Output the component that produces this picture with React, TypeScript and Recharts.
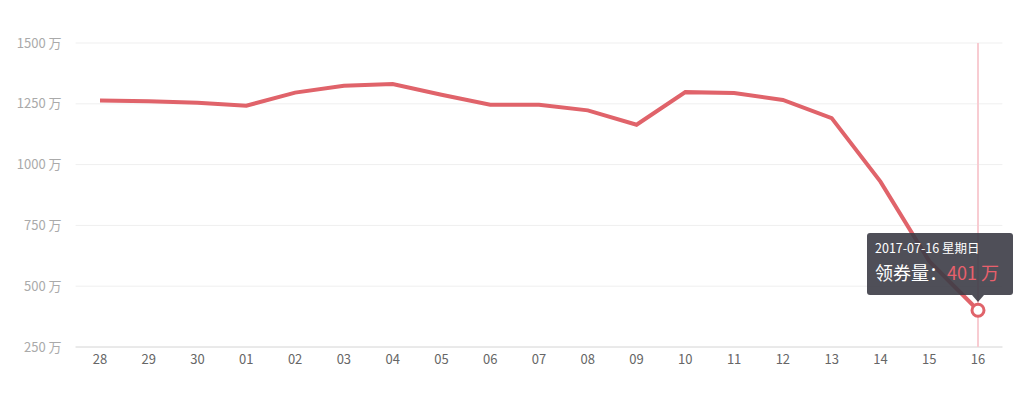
import React from 'react';
import { LineChart, Line, XAxis, YAxis, CartesianGrid, Tooltip } from 'recharts';

const days = ['28', '29', '30', '01', '02', '03', '04', '05', '06', '07', '08', '09', '10', '11', '12', '13', '14', '15', '16'];
const dates = ['2017-06-28', '2017-06-29', '2017-06-30', '2017-07-01', '2017-07-02', '2017-07-03', '2017-07-04', '2017-07-05', '2017-07-06', '2017-07-07', '2017-07-08', '2017-07-09', '2017-07-10', '2017-07-11', '2017-07-12', '2017-07-13', '2017-07-14', '2017-07-15', '2017-07-16'];
const weekdays = ['星期三', '星期四', '星期五', '星期六', '星期日', '星期一', '星期二', '星期三', '星期四', '星期五', '星期六', '星期日', '星期一', '星期二', '星期三', '星期四', '星期五', '星期六', '星期日'];
const coupons = [1264, 1260, 1254, 1242, 1296, 1324, 1331, 1287, 1246, 1246, 1223, 1164, 1298, 1294, 1266, 1191, 930, 603, 401];
const yTicks = [250, 500, 750, 1000, 1250, 1500];

const data = days.map((d, i) => ({ day: d, date: dates[i], weekday: weekdays[i], value: coupons[i] }));

const LINE = '#e0636a';
const FONT = '"Microsoft YaHei", "Noto Sans CJK SC", "Noto Sans", sans-serif';

const TipContent = (props: any) => {
  const { active, payload } = props;
  if (!active || !payload || !payload.length) return null;
  const p = payload[0].payload;
  return (
    <div style={{ position: 'relative', width: 146, height: 62, boxSizing: 'border-box', background: 'rgba(60,60,70,0.9)', borderRadius: 3, padding: '7px 8px 0 8px', fontFamily: FONT, color: '#fff' }}>
      <div style={{ fontSize: 12.5, lineHeight: '16px', whiteSpace: 'nowrap' }}>{p.date} {p.weekday}</div>
      <div style={{ fontSize: 18, lineHeight: '24px', marginTop: 4, whiteSpace: 'nowrap' }}>
        领券量：<span style={{ color: '#e8606c' }}>{p.value} 万</span>
      </div>
      <div style={{ position: 'absolute', left: 105, bottom: -7, width: 0, height: 0, borderLeft: '6px solid transparent', borderRight: '6px solid transparent', borderTop: '7px solid rgba(60,60,70,0.9)' }} />
    </div>
  );
};

export default function App() {
  return (
    <div style={{ position: 'absolute', left: 0, top: 0, width: 1022, height: 402, background: '#fff' }}>
      <LineChart width={1022} height={402} data={data} margin={{ top: 43, right: 19.6, left: 0, bottom: 25 }}>
        <CartesianGrid horizontal vertical={false} stroke="#efefef" />
        <XAxis
          dataKey="day"
          padding={{ left: 24.4, right: 24.4 }}
          axisLine={{ stroke: '#dcdcdc' }}
          tickLine={false}
          height={30}
          tick={{ fill: '#666', fontSize: 13, fontFamily: FONT }}
          interval={0}
        />
        <YAxis
          width={75.6}
          domain={[250, 1500]}
          ticks={yTicks}
          axisLine={false}
          tickLine={false}
          tickMargin={8}
          tick={{ fill: '#aaa', fontSize: 13, fontFamily: FONT }}
          tickFormatter={(v: number) => `${v} 万`}
        />
        <Tooltip
          defaultIndex={18}
          active
          content={<TipContent />}
          position={{ x: 867, y: 233 }}
          cursor={{ stroke: '#f8ccd2', strokeWidth: 2 }}
          wrapperStyle={{ outline: 'none' }}
          isAnimationActive={false}
        />
        <Line
          type="linear"
          dataKey="value"
          stroke={LINE}
          strokeWidth={4}
          dot={false}
          activeDot={{ r: 6, fill: '#fff', stroke: LINE, strokeWidth: 3 }}
          isAnimationActive={false}
        />
      </LineChart>
    </div>
  );
}
